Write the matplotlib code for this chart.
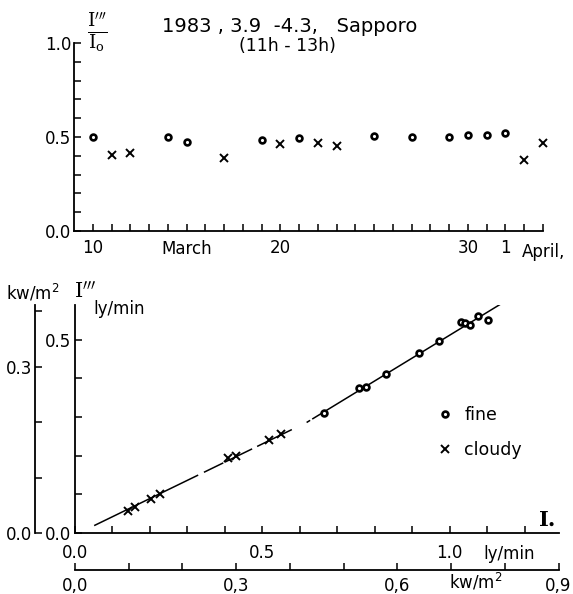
import numpy as np
import matplotlib.pyplot as plt

plt.rcParams['font.family'] = 'DejaVu Sans'
plt.rcParams['mathtext.fontset'] = 'dejavuserif'

# top panel: ratio I'''/Io per day (day 32 = April 1)
fine_days = [10, 14, 15, 19, 21, 25, 27, 29, 30, 31, 32]
fine_ratio = [0.500, 0.502, 0.473, 0.486, 0.493, 0.505, 0.502, 0.502, 0.509, 0.512, 0.523]
cloudy_days = [11, 12, 17, 20, 22, 23, 33, 34]
cloudy_ratio = [0.402, 0.417, 0.390, 0.461, 0.470, 0.450, 0.379, 0.466]
day_labels = {10: '10', 20: '20', 30: '30', 32: '1'}

# bottom panel: I''' vs Io (ly/min)
fine_I0 = [0.665, 0.757, 0.777, 0.830, 0.918, 0.971, 1.031, 1.041, 1.055, 1.077, 1.103]
fine_I3 = [0.311, 0.375, 0.379, 0.412, 0.465, 0.496, 0.546, 0.544, 0.538, 0.561, 0.550]
cloudy_I0 = [0.141, 0.160, 0.202, 0.228, 0.409, 0.431, 0.517, 0.551]
cloudy_I3 = [0.057, 0.068, 0.088, 0.101, 0.195, 0.200, 0.241, 0.257]

# fitted line (with a knee) and the pieces of it that are drawn
fit_x = [0.053, 0.62, 1.139]
fit_y = [0.020, 0.287, 0.594]
fit_spans = [(0.053, 0.327), (0.346, 0.394), (0.402, 0.471), (0.488, 0.577),
             (0.620, 0.626), (0.635, 1.139)]

LY2KW = 0.6973  # 1 ly/min in kw/m2

W, H = 573, 594
fig = plt.figure(figsize=(W / 100, H / 100), dpi=100)

def px_axes(x0, y0, x1, y1):
    return fig.add_axes([x0 / W, (H - y1) / H, (x1 - x0) / W, (y1 - y0) / H])

dot_kw = dict(ls='none', marker='o', ms=4.2, mfc='white', mec='black', mew=1.9, clip_on=False)
x_kw = dict(ls='none', marker='x', ms=5.5, mec='black', mew=1.4, clip_on=False)

# ---------------- top panel ----------------
ax1 = px_axes(74, 43, 543, 231)
ax1.plot(fine_days, fine_ratio, **dot_kw)
ax1.plot(cloudy_days, cloudy_ratio, **x_kw)
ax1.set_xlim(9, 34)
ax1.set_ylim(0, 1.0)
for s in ['top', 'right']:
    ax1.spines[s].set_visible(False)
for s in ['left', 'bottom']:
    ax1.spines[s].set_linewidth(1.3)
days = list(range(10, 35))
ax1.set_xticks(days, [day_labels.get(d, '') for d in days])
yt = np.round(np.arange(0, 1.01, 0.1), 1)
ax1.set_yticks(yt, ['0.0' if v == 0 else '0.5' if v == 0.5 else '1.0' if v == 1.0 else '' for v in yt])
ax1.tick_params(direction='in', length=5, width=1.1, labelsize=12)
ax1.tick_params(axis='x', pad=6)
ax1.tick_params(axis='y', pad=2)
ax1.text(15, -0.097, 'March', ha='center', va='center', fontsize=12)
ax1.text(32.9, -0.112, 'April,', ha='left', va='center', fontsize=12, clip_on=False)

fig.text(162 / W, 1 - 26 / H, '1983 , 3.9  -4.3,   Sapporo', fontsize=14, va='center')
fig.text(287 / W, 1 - 46 / H, '(11h - 13h)', fontsize=12.5, va='center', ha='center')
fig.text(97 / W, 1 - 32 / H, r"$\frac{\mathrm{I}^{\prime\prime\prime}}{\mathrm{I}_{\mathrm{o}}}$",
         fontsize=19, ha='center', va='center')

# ---------------- bottom panel ----------------
ax2 = px_axes(75, 305, 559, 533)
for a, b in fit_spans:
    xs = [a] + [k for k in fit_x if a < k < b] + [b]
    ax2.plot(xs, np.interp(xs, fit_x, fit_y), color='black', lw=1.1)
h_fine, = ax2.plot(fine_I0, fine_I3, **dot_kw)
h_cloudy, = ax2.plot(cloudy_I0, cloudy_I3, **x_kw)
ax2.set_xlim(0, 1.292)
ax2.set_ylim(0, 0.59)
for s in ['top', 'right']:
    ax2.spines[s].set_visible(False)
for s in ['left', 'bottom']:
    ax2.spines[s].set_linewidth(1.3)
xt = np.round(np.arange(0, 1.21, 0.1), 1)
ax2.set_xticks(xt, ['0.0' if v == 0 else '0.5' if v == 0.5 else '1.0' if v == 1.0 else '' for v in xt])
yt2 = np.round(np.arange(0, 0.51, 0.1), 1)
ax2.set_yticks(yt2, ['0.0' if v == 0 else '0.5' if v == 0.5 else '' for v in yt2])
ax2.tick_params(direction='in', length=5, width=1.1, labelsize=12)
ax2.tick_params(axis='x', pad=8)
ax2.tick_params(axis='y', pad=3)

ax2.legend([h_fine, h_cloudy], ['fine', 'cloudy'], loc='center left',
           bbox_to_anchor=(0.722, 0.441), frameon=False, fontsize=12.5,
           handlelength=0.6, handletextpad=0.8, labelspacing=0.95,
           markerscale=1.0)

# kw/m2 axes
secy = ax2.secondary_yaxis(-0.083, functions=(lambda v: v * LY2KW, lambda v: v / LY2KW))
secy.set_yticks([0, 0.1, 0.2, 0.3, 0.4], ['0.0', '', '', '0.3', ''])
secy.tick_params(direction='in', length=5, width=1.1, labelsize=12, pad=2)
secy.spines['left'].set_linewidth(1.3)

secx = ax2.secondary_xaxis(-0.162, functions=(lambda v: v * LY2KW, lambda v: v / LY2KW))
secx.set_xticks(np.round(np.arange(0, 0.91, 0.1), 1),
                ['0,0', '', '', '0,3', '', '', '0,6', '', '', '0,9'])
secx.tick_params(direction='in', length=5, width=1.1, labelsize=12, pad=5)
secx.spines['bottom'].set_linewidth(1.3)

fig.text(33 / W, 1 - 293 / H, 'kw/m$^2$', fontsize=12, ha='center', va='center',
         math_fontfamily='dejavusans')
fig.text(74 / W, 1 - 292 / H, r'$\mathrm{I}^{\prime\prime\prime}$', fontsize=15, va='center')
fig.text(93 / W, 1 - 309 / H, 'ly/min', fontsize=12, va='center')
fig.text(547 / W, 1 - 518 / H, r'$\mathbf{I}_{\bullet}$', fontsize=15, ha='center', va='center')
fig.text(509 / W, 1 - 554 / H, 'ly/min', fontsize=12, ha='center', va='center')
fig.text(476 / W, 1 - 582 / H, 'kw/m$^2$', fontsize=12, ha='center', va='center',
         math_fontfamily='dejavusans')

fig.savefig('out.png', dpi=100)
